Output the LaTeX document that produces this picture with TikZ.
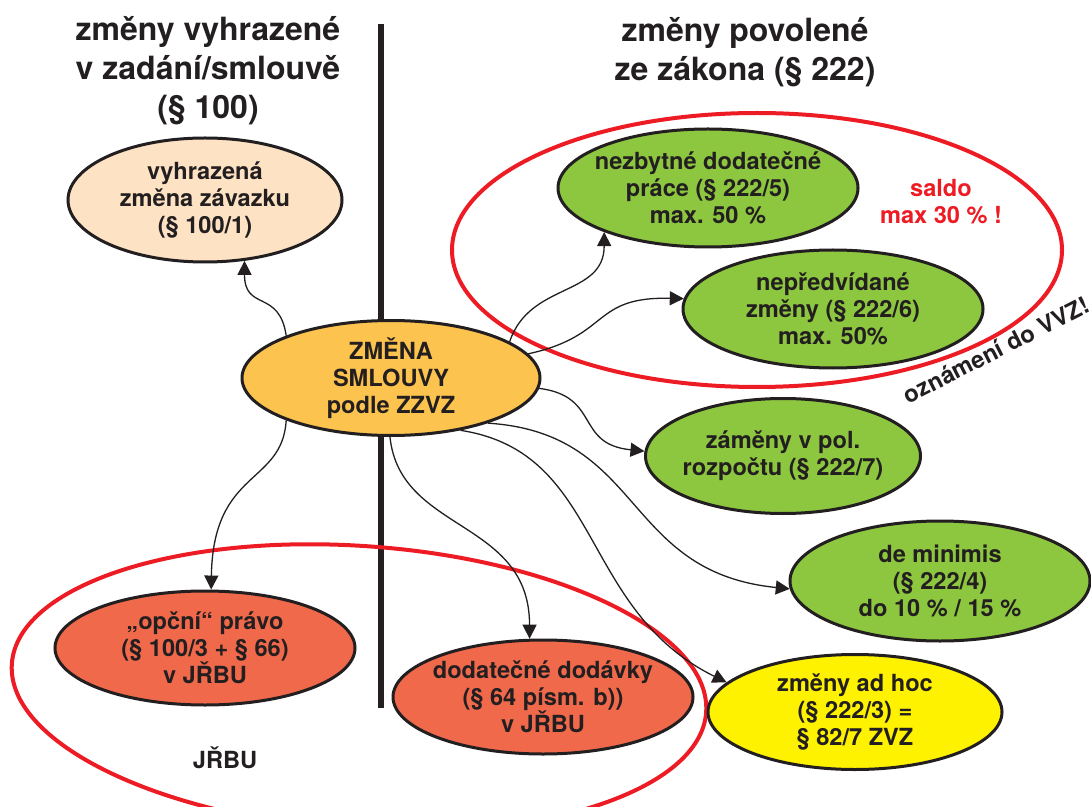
\documentclass[tikz,border=0pt]{standalone}
\usepackage{fontspec}
\setmainfont{TeX Gyre Heros}
\usepackage{tikz}
\usetikzlibrary{positioning,shapes.geometric,arrows.meta}
\definecolor{ink}{HTML}{231F20}
\definecolor{peach}{HTML}{FDE3C4}
\definecolor{amber}{HTML}{FCC34F}
\definecolor{leaf}{HTML}{8DC63F}
\definecolor{coral}{HTML}{F1694B}
\definecolor{lemon}{HTML}{FFF200}
\definecolor{signal}{HTML}{ED1C24}

\begin{document}
\begin{tikzpicture}[x=0.5pt,y=-0.5pt,
		oval/.style={ellipse,draw=ink,line width=1.5pt,inner xsep=-8pt,inner ysep=0pt,align=center,text=ink,font=\bfseries\fontsize{11.8}{13.6}\selectfont,minimum width=150pt,minimum height=59pt},
		heading/.style={align=center,text=ink,font=\bfseries\fontsize{16}{19.5}\selectfont},
		note/.style={align=center,font=\bfseries\fontsize{11.8}{13.6}\selectfont},
		redring/.style={draw=signal,line width=2pt},
		conn/.style={draw=ink,line width=0.65pt,-{Triangle[length=7pt,width=7pt]}}]
		\useasboundingbox (0,0) rectangle (1091,807);
		\draw[ink,line width=2.6pt] (381,24) -- (381,708);
		% headings
		\node[heading] (left) at (208,71) {změny vyhrazené\\v zadání/smlouvě\\(§ 100)};
		\node[heading] (right) at (745,52) {změny povolené\\ze zákona (§ 222)};
		% red groups
		\draw[redring] (757,250) ellipse [x radius=152.5pt,y radius=68.5pt];
		\draw[redring,rotate around={-4:(359,688)}] (359,688) ellipse [x radius=174pt,y radius=71pt];
		% ovals
		\node[oval,fill=peach,minimum width=137pt,minimum height=62pt] (vyhr) at (205,200) {vyhrazená\\změna závazku\\(§ 100/1)};
		\node[oval,fill=amber,minimum width=149pt,minimum height=56.5pt] (zmena) at (391,378) {ZMĚNA\\SMLOUVY\\podle ZZVZ};
		\node[oval,fill=leaf] (nezb) at (708,188) {nezbytné dodatečné\\práce (§ 222/5)\\max. 50 \%};
		\node[oval,fill=leaf] (nepr) at (833,309) {nepředvídané\\změny (§ 222/6)\\max. 50\%};
		\node[oval,fill=leaf,minimum width=137.5pt,minimum height=57.5pt] (zamen) at (783,456) {záměny v pol.\\rozpočtu (§ 222/7)};
		\node[oval,fill=leaf,minimum height=60pt] (demin) at (940,581) {de minimis\\(§ 222/4)\\do 10 \% / 15 \%};
		\node[oval,fill=lemon,minimum width=147pt,minimum height=57.5pt] (adhoc) at (855,712) {změny ad hoc\\(§ 222/3) =\\§ 82/7 ZVZ};
		\node[oval,fill=coral,minimum height=57pt] (opcni) at (205,648) {„opční“ právo\\(§ 100/3 + § 66)\\v JŘBU};
		\node[oval,fill=coral,minimum height=57pt] (dodav) at (543,697) {dodatečné dodávky\\(§ 64 písm. b))\\v JŘBU};
		% labels
		\node[note,text=signal] (saldo) at (941,202) {saldo\\max 30 \% !};
		\node[note,text=ink,rotate=27] (vvz) at (996,350) {oznámení do VVZ!};
		\node[note,text=ink] (jrbu) at (225,758) {JŘBU};
		% arrows
		\draw[conn] (zmena.158) .. controls +(-7,-47) and +(0,51) .. (vyhr.-57);
		\draw[conn] (zmena.17) .. controls +(20,-60) and +(0,65) .. (nezb.-157);
		\draw[conn] (zmena.10) .. controls +(83,-18) and +(-93,-2) .. (nepr.176);
		\draw[conn] (zmena.-4) .. controls +(62,8) and +(-70,-7) .. (zamen.178);
		\draw[conn] (zmena.-25) .. controls +(157,10) and +(-168,-17) .. (demin.183);
		\draw[conn] (zmena.-37) .. controls +(143,22) and +(-148,-73) .. (adhoc.167);
		\draw[conn] (zmena.202) .. controls +(-4,65) and +(2,-121) .. (opcni.84);
		\draw[conn] (zmena.-91) .. controls +(10,96) and +(0,-120) .. (dodav.103);
	\end{tikzpicture}
\end{document}
